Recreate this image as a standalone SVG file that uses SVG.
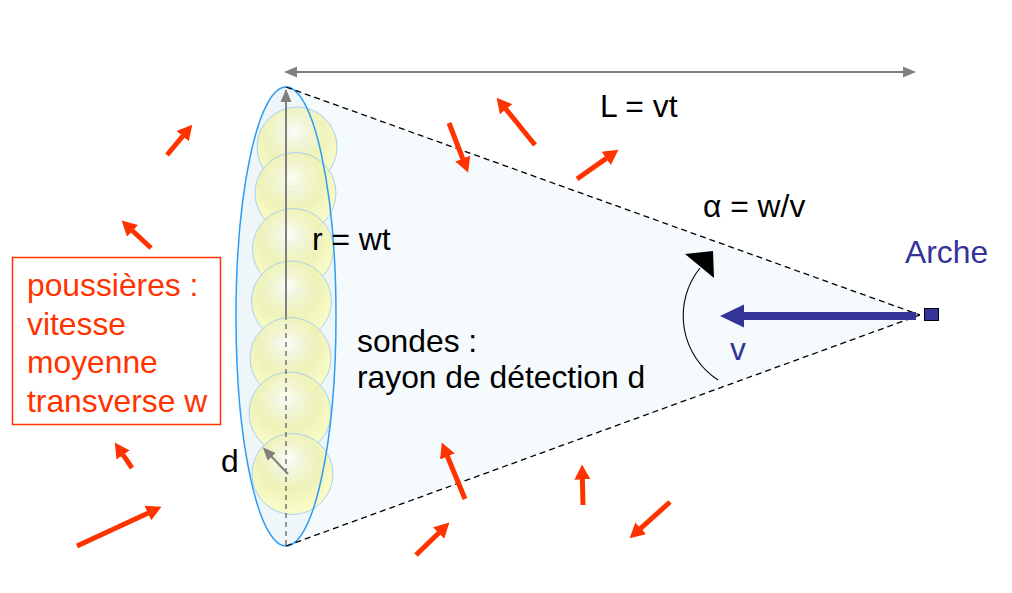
<svg xmlns="http://www.w3.org/2000/svg" width="1012" height="593" viewBox="0 0 1012 593">
<style>
text{font-family:"Liberation Sans",Arial,sans-serif;font-size:31.8px;fill:#000}
.red{fill:#ff3300}
.blue{fill:#333399}
.dust{stroke:#ff3300;stroke-width:5;fill:none;marker-end:url(#rh)}
.probe{fill:url(#sg);stroke:#a9d0f0;stroke-width:1}
.dash{stroke:#000;stroke-width:1.3;stroke-dasharray:6 4;fill:none}
.gray{stroke:#808080;stroke-width:2;fill:none}
</style>
<defs>
<marker id="rh" markerUnits="userSpaceOnUse" markerWidth="17" markerHeight="17" viewBox="0 0 17 17" refX="0.5" refY="8.5" orient="auto"><path d="M0,0.5 L15,8.5 L0,16.5 Z" fill="#ff3300"/></marker>
<marker id="gh" markerUnits="userSpaceOnUse" markerWidth="14" markerHeight="12" viewBox="0 0 14 12" refX="1" refY="6" orient="auto-start-reverse"><path d="M0,0.5 L13,6 L0,11.5 Z" fill="#808080"/></marker>
<radialGradient id="sg" cx="0.46" cy="0.33" r="0.62" fx="0.46" fy="0.3">
<stop offset="0" stop-color="#ffffff"/>
<stop offset="0.22" stop-color="#f3f6da"/>
<stop offset="0.6" stop-color="#eef2b0" />
<stop offset="1" stop-color="#fbfcc0"/>
</radialGradient>
</defs>
<g id="cone">
<polygon points="286,87 920,315 286,546" fill="#f5fafd"/>
<ellipse cx="286" cy="316.5" rx="50" ry="229.5" fill="#eef6fa"/>
</g>
<g id="probes" fill-opacity="0.88">
<circle class="probe" cx="297" cy="147" r="40"/>
<circle class="probe" cx="295.5" cy="193" r="40.5"/>
<circle class="probe" cx="293" cy="249" r="40.5"/>
<circle class="probe" cx="291.5" cy="301" r="40"/>
<circle class="probe" cx="290.5" cy="358" r="40.5"/>
<circle class="probe" cx="290" cy="413" r="41"/>
<circle class="probe" cx="292.5" cy="474" r="40.5"/>
</g>
<g id="ellipse-outline">
<ellipse cx="286" cy="316.5" rx="50" ry="229.5" fill="none" stroke="#2d9cf5" stroke-width="1.5"/>
</g>
<g id="connectors">
<line class="dash" x1="286" y1="87" x2="920" y2="315"/>
<line class="dash" x1="286" y1="546" x2="920" y2="315"/>
<line x1="286" y1="90" x2="286" y2="546" stroke="#555" stroke-width="1.2" stroke-dasharray="5 4"/>
<line class="gray" x1="286" y1="316" x2="286" y2="101" marker-end="url(#gh)"/>
<line class="gray" x1="288" y1="474" x2="271" y2="456" stroke-width="1.8" marker-end="url(#gh)"/>
<line class="gray" x1="296" y1="72" x2="904" y2="72" stroke-width="1.8" marker-start="url(#gh)" marker-end="url(#gh)"/>
<path d="M718,380 A76.5,76.5 0 0 1 700,268" fill="none" stroke="#000" stroke-width="1.1"/>
<polygon points="713,251 685,254 714,278" fill="#000"/>
<rect x="743" y="312" width="173" height="8" fill="#333399"/>
<polygon points="720,316 744,304.5 744,327.5" fill="#333399"/>
</g>
<g id="dust-arrows">
<line class="dust" x1="167" y1="155" x2="183" y2="135.8"/>
<line class="dust" x1="151" y1="248" x2="132.2" y2="230.5"/>
<line class="dust" x1="132" y1="468" x2="122.9" y2="454.6"/>
<line class="dust" x1="77" y1="546" x2="148.3" y2="512.9" stroke-width="6"/>
<line class="dust" x1="449" y1="123" x2="462.9" y2="159"/>
<line class="dust" x1="535" y1="145" x2="505.8" y2="108.9"/>
<line class="dust" x1="577" y1="179" x2="606.6" y2="158.1"/>
<line class="dust" x1="465" y1="499" x2="447.3" y2="456"/>
<line class="dust" x1="583" y1="505" x2="582.4" y2="479"/>
<line class="dust" x1="416" y1="555" x2="439" y2="532.7"/>
<line class="dust" x1="670" y1="502" x2="640.4" y2="528.6"/>
</g>
<g id="arche">
<rect x="924.5" y="308.5" width="14" height="12" fill="#333399" stroke="#000" stroke-width="1"/>
<text class="blue" x="905" y="263" font-size="31">Arche</text>
<text class="blue" x="730" y="360" font-size="30">v</text>
</g>
<g id="labels">
<text x="600" y="117">L = vt</text>
<text x="703" y="217">α = w/v</text>
<text x="312" y="250">r = wt</text>
<text x="357" y="352">sondes :</text>
<text x="357" y="388">rayon de détection d</text>
<text x="221" y="472" font-size="30">d</text>
</g>
<g id="dust-label">
<rect x="12.5" y="257.5" width="208" height="167" fill="#fff" stroke="#ff3300" stroke-width="1.5"/>
<text class="red" x="27" y="296">poussières :</text>
<text class="red" x="27" y="335">vitesse</text>
<text class="red" x="27" y="373">moyenne</text>
<text class="red" x="27" y="412">transverse w</text>
</g>
</svg>
